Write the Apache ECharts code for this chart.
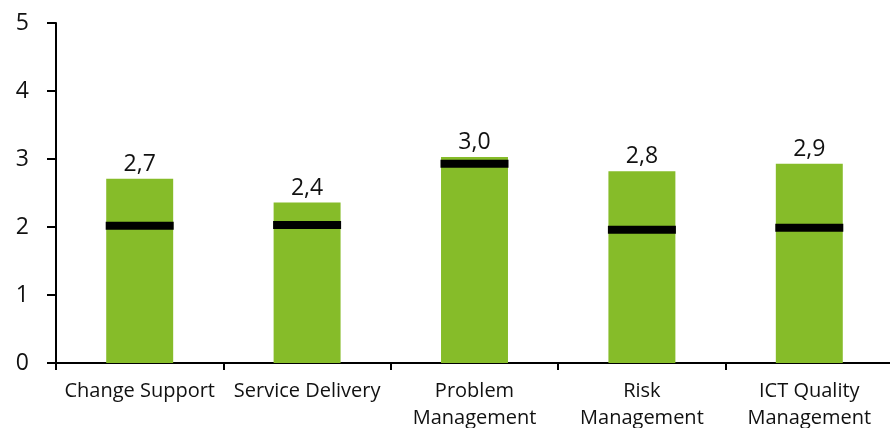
<!DOCTYPE html>
<html><head><meta charset="utf-8">
<script src="https://cdn.jsdelivr.net/npm/echarts@6/dist/echarts.min.js"></script>
<style>html,body{margin:0;padding:0;background:#fff}#c{width:890px;height:428px}</style>
</head><body><div id="c"></div>
<script>
const categories = ["Change Support", "Service Delivery", "Problem\nManagement", "Risk\nManagement", "ICT Quality\nManagement"];
const scores = [2.71, 2.36, 3.03, 2.82, 2.93];
const benchmarks = [2.02, 2.03, 2.93, 1.96, 1.99];
const yTicks = [0, 1, 2, 3, 4, 5];

const FONT = "'Open Sans', 'Noto Sans', sans-serif";
const chart = echarts.init(document.getElementById('c'), null, {renderer: 'canvas'});
chart.setOption({
  animation: false,
  grid: {left: 56, top: 23, bottom: 65, right: -3, containLabel: false, outerBoundsMode: 'none'},
  xAxis: {
    type: 'category', data: categories,
    axisLine: {lineStyle: {color: '#000', width: 2}},
    axisTick: {show: true, length: 7, lineStyle: {color: '#000', width: 2}},
    axisLabel: {color: '#111', fontFamily: FONT, fontSize: 20, margin: 15, lineHeight: 27, interval: 0}
  },
  yAxis: {
    type: 'value', min: yTicks[0], max: yTicks[yTicks.length - 1], interval: 1,
    axisLine: {show: true, lineStyle: {color: '#000', width: 2}},
    axisTick: {show: true, length: 9, lineStyle: {color: '#000', width: 2}},
    splitLine: {show: false},
    axisLabel: {color: '#111', fontFamily: FONT, fontSize: 23, margin: 27}
  },
  series: [
    {
      type: 'bar', data: scores, barWidth: '40%',
      itemStyle: {color: '#86BC29'},
      label: {show: true, position: 'top', distance: 3, color: '#111', fontFamily: FONT, fontSize: 23,
        formatter: p => p.value.toFixed(1).replace('.', ',')}
    },
    {
      type: 'scatter', data: benchmarks, symbol: 'rect', symbolSize: [68, 8],
      itemStyle: {color: '#000', opacity: 1}, z: 5
    }
  ]
});
</script></body></html>
